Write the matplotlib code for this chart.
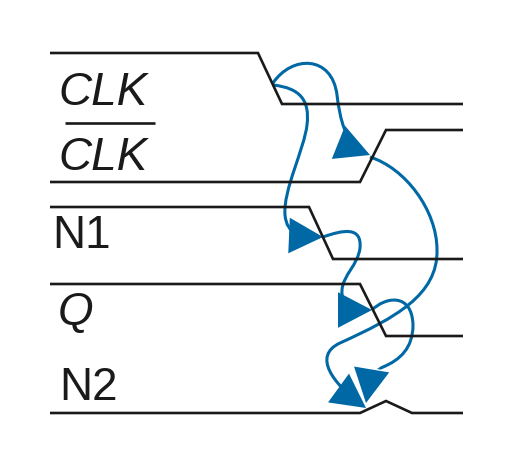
import numpy as np
import matplotlib.pyplot as plt
import matplotlib.patheffects as pe
from matplotlib.path import Path
from matplotlib.patches import FancyArrowPatch

# Waveforms (x, y in picture units, y grows downward)
clk_x = [50, 258, 282, 463]
clk_y = [53, 53, 104, 104]
clkb_x = [50, 360, 386, 463]
clkb_y = [182, 182, 130, 130]
n1_x = [50, 309, 333, 463]
n1_y = [207, 207, 259, 259]
q_x = [50, 360, 386, 463]
q_y = [284, 284, 336, 336]
n2_x = [50, 360, 386, 412, 463]
n2_y = [413, 413, 401, 413, 413]

# Signal names
labels = ['CLK', 'CLK', 'N1', 'Q', 'N2']
label_x = [58, 58, 52, 58, 59]
label_y = [105, 170, 248, 325, 400]
label_italic = [True, True, False, True, False]
overline_x = [65, 155]
overline_y = [123, 123]

# Causality arrows: start point, then (ctrl1, ctrl2, end) per cubic segment
arrow_clk_clkb = [(273, 83), (292, 55), (332, 55), (337, 95),
                  (340, 119), (345, 145), (370, 155)]
arrow_clk_n1 = [(273, 85), (300, 88), (310, 100), (307, 125),
                (304, 150), (283, 190), (285, 215),
                (287, 235), (300, 236), (323, 237)]
arrow_clkb_n2 = [(370, 157), (405, 168), (437, 210), (437, 250),
                 (438, 295), (395, 318), (340, 343),
                 (312, 356), (333, 384), (366, 408)]
arrow_n1_q = [(323, 237), (343, 230), (362, 226), (360, 248),
              (358, 265), (343, 275), (342, 290),
              (341, 305), (350, 310), (372, 310)]
arrow_q_n2 = [(372, 310), (385, 297), (412, 292), (413, 325),
              (413, 348), (400, 360), (383, 367),
              (372, 372), (369, 385), (366, 403)]

black = '#1a1a1a'
blue = '#0068a4'
head = '-|>,head_length=1.05,head_width=0.55'

fig = plt.figure(figsize=(5.12, 4.5), dpi=100)
ax = fig.add_axes([0, 0, 1, 1])
ax.set_xlim(0, 512)
ax.set_ylim(450, 0)
ax.axis('off')

for xs, ys in [(clk_x, clk_y), (clkb_x, clkb_y), (n1_x, n1_y),
               (q_x, q_y), (n2_x, n2_y)]:
    ax.plot(xs, ys, color=black, lw=1.9, solid_joinstyle='miter',
            solid_capstyle='butt')

for txt, x, y, it in zip(labels, label_x, label_y, label_italic):
    ax.text(x, y, txt, fontsize=33, family='Liberation Sans',
            style='italic' if it else 'normal', color=black,
            ha='left', va='baseline')
ax.plot(overline_x, overline_y, color=black, lw=1.9, solid_capstyle='butt')

for pts in [arrow_clk_clkb, arrow_clk_n1, arrow_clkb_n2, arrow_n1_q, arrow_q_n2]:
    codes = [Path.MOVETO] + [Path.CURVE4] * (len(pts) - 1)
    arr = FancyArrowPatch(path=Path(pts, codes), arrowstyle=head,
                          mutation_scale=20, lw=2.2, color=blue,
                          joinstyle='miter', capstyle='butt')
    ax.add_patch(arr)

# last head sits on top of the other one with a thin white rim
tip = FancyArrowPatch(arrow_q_n2[-2], arrow_q_n2[-1], arrowstyle=head,
                      mutation_scale=20, lw=2.2, color=blue,
                      shrinkA=0, shrinkB=0, joinstyle='miter',
                      path_effects=[pe.withStroke(linewidth=4.2, foreground='white')])
ax.add_patch(tip)

fig.savefig('out.png', dpi=100)
